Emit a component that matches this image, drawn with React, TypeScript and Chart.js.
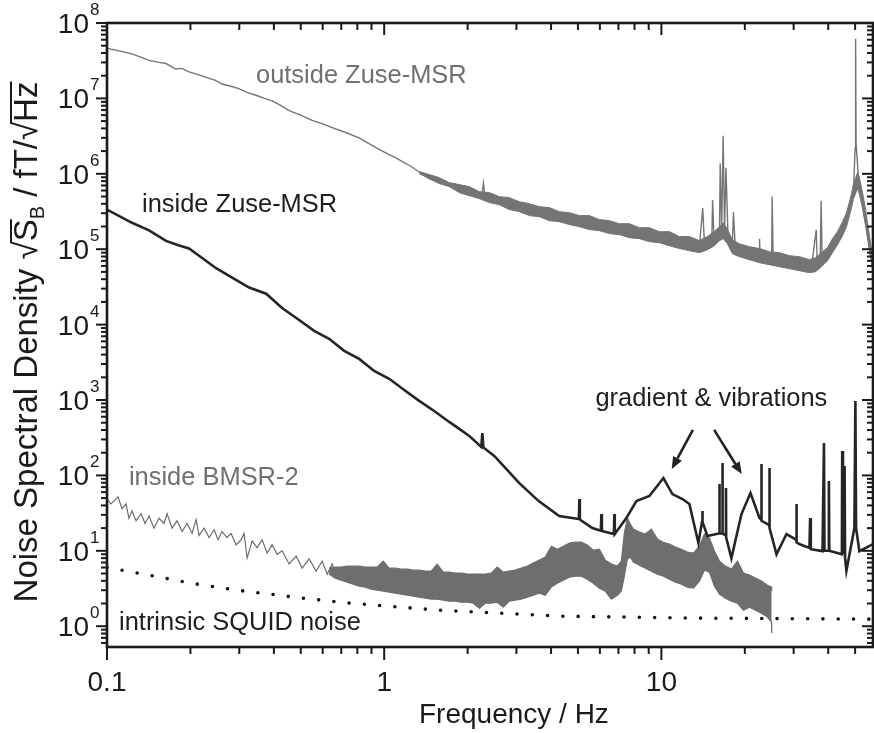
import React, { useEffect, useRef } from "react";
import { Chart, registerables } from "chart.js";
Chart.register(...registerables);

// ---------- axes ----------
const X_MIN = 0.1;
const X_MAX = 58;
const Y_MIN = 0.53;
const Y_MAX = 1e8;
const xMajorTicks = [0.1, 1, 10];
const xMajorLabels = ["0.1", "1", "10"];
const xMinorTicks = [0.2, 0.3, 0.4, 0.5, 0.6, 0.7, 0.8, 0.9, 2, 3, 4, 5, 6, 7, 8, 9, 20, 30, 40, 50];
const yMajorTicks = [1, 10, 100, 1e3, 1e4, 1e5, 1e6, 1e7, 1e8];
const yMajorExponents = ["0", "1", "2", "3", "4", "5", "6", "7", "8"];
const yMinorMantissas = [2, 3, 4, 5, 6, 7, 8, 9];

// ---------- series: outside Zuse-MSR (trace) ----------
const outsideFreq = [0.1, 0.1034, 0.1096, 0.1231, 0.133, 0.1418, 0.154, 0.1633, 0.177, 0.186, 0.1977, 0.2148, 0.228, 0.245, 0.26, 0.28, 0.299, 0.32, 0.345, 0.37, 0.394, 0.42, 0.454, 0.5, 0.55, 0.6, 0.649, 0.73, 0.812, 0.9, 0.985, 1.11, 1.25, 1.453, 1.6, 1.866, 2.1, 2.25, 2.28, 2.31, 2.6, 3.072, 3.6, 3.942, 4.5, 5.058, 6.0, 6.493, 7.3, 8.328, 9.834, 11, 12.62, 13.72, 14.1, 14.3, 15.2, 15.3, 15.5, 16.2, 16.3, 16.5, 16.7, 16.9, 17.1, 17.4, 18.0, 18.2, 18.5, 20.78, 22.5, 22.6, 22.7, 23.54, 25.0, 25.1, 25.3, 26.5, 31.42, 34.79, 36.2, 36.5, 37.4, 37.7, 38, 41.37, 45.03, 47.82, 49.33, 50.0, 50.2, 50.4, 51.1, 51.86, 54.06, 56.35, 58];
const outsideVal = [4.65e7, 4.5e7, 4.3e7, 3.9e7, 3.5e7, 3.2e7, 3.0e7, 2.9e7, 2.45e7, 2.5e7, 2.25e7, 2.05e7, 1.9e7, 1.75e7, 1.55e7, 1.45e7, 1.35e7, 1.2e7, 1.1e7, 1.0e7, 9.3e6, 8.2e6, 6.9e6, 6.0e6, 5.1e6, 4.6e6, 4.1e6, 3.5e6, 3.0e6, 2.4e6, 2.0e6, 1.6e6, 1.25e6, 8.6e5, 7.6e5, 6.3e5, 5.6e5, 5.0e5, 7.5e5, 4.9e5, 4.6e5, 3.7e5, 3.2e5, 2.9e5, 2.7e5, 2.35e5, 2.1e5, 1.95e5, 1.8e5, 1.6e5, 1.45e5, 1.35e5, 1.22e5, 1.12e5, 3.5e5, 1.15e5, 1.2e5, 4.5e5, 1.25e5, 1.4e5, 1.37e6, 1.8e5, 3.2e6, 1.8e5, 1.2e6, 1.4e5, 1.0e5, 3.1e5, 9.5e4, 8.9e4, 8.2e4, 1.38e5, 8.0e4, 7.6e4, 7.3e4, 5.0e5, 7.1e4, 7.0e4, 6.4e4, 5.8e4, 1.8e5, 6.2e4, 7.2e4, 4.4e5, 7.5e4, 1.13e5, 1.9e5, 3.4e5, 6.0e5, 2.2e6, 6.2e7, 2.5e6, 1.2e6, 6.6e5, 2.7e5, 1.2e5, 6.5e4];

// outside Zuse-MSR: noise band (upper / lower edges)
const outsideBandFreq = [1.3377, 1.4537, 1.5797, 1.7167, 1.8656, 2.0274, 2.2029, 2.3936, 2.6013, 2.8266, 3.0717, 3.3381, 3.627, 3.942, 4.2833, 4.6541, 5.0582, 5.4966, 5.9721, 6.4925, 7.0548, 7.6648, 8.3277, 9.0522, 9.835, 10.688, 11.614, 12.618, 13.716, 14.659, 15.536, 16.196, 16.743, 17.31, 18.043, 19.124, 20.782, 22.585, 24.544, 26.669, 28.98, 31.493, 34.213, 35.975, 37.815, 39.748, 41.432, 43.192, 45.025, 46.541, 47.721, 48.521, 49.331, 51.02, 51.87, 53.178, 54.527, 56.355, 57.77];
const outsideBandHigh = [1.07e6, 9.76e5, 8.9e5, 7.64e5, 7.19e5, 6.76e5, 5.8e5, 5.63e5, 4.98e5, 4.83e5, 4.27e5, 4.02e5, 3.67e5, 3.56e5, 3.15e5, 3.05e5, 2.79e5, 2.79e5, 2.47e5, 2.39e5, 2.18e5, 2.18e5, 1.93e5, 1.93e5, 1.71e5, 1.71e5, 1.47e5, 1.47e5, 1.3e5, 1.47e5, 1.71e5, 1.99e5, 2.25e5, 1.82e5, 1.34e5, 1.18e5, 1.08e5, 1.02e5, 9.27e4, 8.99e4, 8.2e4, 7.95e4, 7.26e4, 7.71e4, 8.99e4, 1.05e5, 1.38e5, 1.71e5, 2.32e5, 3.05e5, 4.27e5, 5.46e5, 7.41e5, 1.037e6, 8.64e5, 5.63e5, 3.35e5, 1.47e5, 8.2e4];
const outsideBandLow = [1.006e6, 8.64e5, 7.41e5, 6.76e5, 5.63e5, 5.13e5, 4.69e5, 4.15e5, 3.9e5, 3.35e5, 3.15e5, 2.79e5, 2.7e5, 2.39e5, 2.32e5, 2.12e5, 1.99e5, 1.82e5, 1.76e5, 1.61e5, 1.56e5, 1.42e5, 1.38e5, 1.26e5, 1.22e5, 1.11e5, 1.02e5, 9.55e4, 8.99e4, 9.85e4, 1.11e5, 1.3e5, 1.38e5, 1.18e5, 8.71e4, 7.95e4, 7.26e4, 6.62e4, 6.23e4, 5.86e4, 5.51e4, 5.18e4, 4.88e4, 5.03e4, 5.86e4, 7.04e4, 8.99e4, 1.15e5, 1.51e5, 1.99e5, 2.79e5, 3.56e5, 4.69e5, 6.36e5, 5.29e5, 3.45e5, 2.05e5, 9.27e4, 5.18e4];

// ---------- series: inside Zuse-MSR ----------
const insideFreq = [0.1, 0.1017, 0.1231, 0.1418, 0.1633, 0.182, 0.1977, 0.2148, 0.2475, 0.2827, 0.3256, 0.375, 0.4283, 0.4933, 0.5589, 0.6329, 0.7172, 0.8124, 0.9202, 1.0425, 1.181, 1.3377, 1.515, 1.7167, 1.866, 2.027, 2.24, 2.26, 2.28, 2.5, 3.072, 3.6, 4.28, 5.04, 5.06, 5.08, 5.636, 6.05, 6.074, 6.1, 6.74, 6.767, 6.79, 7.476, 8.123, 9.053, 10.17, 10.96, 11.91, 12.62, 13.6, 14.03, 14.06, 14.09, 14.66, 15.8, 16.15, 16.19, 16.23, 16.58, 16.61, 16.64, 17.07, 17.1, 17.13, 17.89, 19.45, 20.96, 22.59, 22.93, 22.96, 22.99, 24.5, 24.54, 24.58, 26.02, 28.27, 30.68, 30.72, 30.76, 31.42, 34.21, 34.4, 34.6, 38.13, 38.6, 38.75, 40.1, 40.2, 40.35, 44.8, 44.9, 45.2, 45.8, 46.0, 46.5, 49.7, 50.1, 50.4, 51.8, 58];
const insideVal = [3.3e5, 3.24e5, 2.24e5, 1.78e5, 1.29e5, 1.12e5, 1.02e5, 8.2e4, 5.6e4, 4.2e4, 3.1e4, 2.57e4, 1.66e4, 1.15e4, 8.27e3, 6.48e3, 4.49e3, 3.51e3, 2.43e3, 1.91e3, 1.36e3, 973, 716, 512, 415, 334, 238, 365, 235, 180, 79, 46, 29, 26.4, 48.6, 26, 20, 18.5, 30.7, 18.3, 16.7, 30.7, 16.7, 27.2, 45.7, 53.3, 92.3, 56.6, 48.6, 41.7, 12.7, 24.8, 33.7, 24, 15.7, 16.7, 17, 76.9, 17, 17, 146, 17, 16, 68, 15, 8.0, 30.7, 58.4, 27.2, 26, 142, 25, 22, 125, 20, 9.0, 16.7, 14, 41.7, 13, 12.3, 10.9, 27.2, 10.5, 9.9, 269, 10, 10, 84, 10, 9, 211, 9, 133, 8, 5.4, 20, 973, 20, 9.9, 12.3];

// ---------- series: inside BMSR-2 (low-frequency trace) ----------
const bmsrFreq = [0.1, 0.1034, 0.106, 0.1096, 0.1133, 0.1171, 0.12, 0.1231, 0.1273, 0.1327, 0.1372, 0.1418, 0.1478, 0.1541, 0.1606, 0.1647, 0.1717, 0.1789, 0.1866, 0.1945, 0.2027, 0.2096, 0.2148, 0.224, 0.2335, 0.2434, 0.2516, 0.2601, 0.2711, 0.2803, 0.2922, 0.3046, 0.3123, 0.3202, 0.3338, 0.3479, 0.3627, 0.3781, 0.3941, 0.4109, 0.4283, 0.454, 0.4813, 0.5058, 0.5362, 0.5684, 0.5974, 0.6228, 0.6493, 0.6767];
const bmsrVal = [48.6, 42, 46, 52, 36, 42, 27, 34, 25, 31, 23, 29, 20, 27, 23, 31, 20, 25, 18, 23, 17, 26, 16, 20, 15, 19, 14, 18, 15, 17, 12, 14, 17, 8, 13.5, 11, 14, 9.3, 12, 9, 10, 6.7, 8.5, 5.9, 7.8, 5.4, 7.3, 4.9, 6.7, 4.3];

// inside BMSR-2: noise band (upper / lower edges)
const bmsrBandFreq = [0.6329, 0.6655, 0.6995, 0.7354, 0.7729, 0.8124, 0.854, 0.8977, 0.9435, 0.9917, 1.0425, 1.0957, 1.1518, 1.2106, 1.2725, 1.3377, 1.406, 1.4779, 1.5533, 1.6331, 1.7167, 1.8043, 1.8967, 1.9935, 2.0956, 2.2029, 2.3153, 2.4338, 2.558, 2.689, 2.8266, 2.9709, 3.1229, 3.2823, 3.4504, 3.627, 3.8122, 4.0073, 4.2119, 4.4275, 4.6541, 4.8917, 5.1421, 5.4053, 5.6813, 5.9721, 6.277, 6.5983, 6.936, 7.1703, 7.3511, 7.5376, 7.7276, 7.9222, 8.3277, 8.7528, 9.201, 9.672, 10.166, 10.688, 11.233, 11.809, 12.414, 13.048, 13.716, 14.297, 14.905, 15.536, 16.196, 17.022, 17.893, 18.808, 19.77, 20.782, 21.847, 22.961, 24.137, 24.951, 25.0];
const bmsrBandHigh = [5.89, 6.08, 6.08, 6.26, 6.26, 6.26, 6.08, 6.08, 6.08, 7.3, 5.89, 5.89, 5.71, 5.71, 5.54, 5.54, 5.38, 5.38, 6.66, 5.21, 5.21, 5.06, 5.06, 4.91, 4.91, 4.91, 4.91, 5.06, 6.08, 5.21, 5.38, 5.54, 5.89, 6.26, 6.87, 7.52, 8.25, 11.5, 10.5, 11.5, 12.7, 13.0, 13.0, 11.9, 10.2, 10.5, 7.52, 6.66, 6.26, 7.3, 17.2, 27.2, 22.6, 19.4, 17.7, 16.7, 19.4, 14.3, 13.0, 12.3, 11.2, 10.5, 9.61, 9.32, 11.5, 16.7, 14.7, 9.91, 7.3, 6.26, 5.71, 7.3, 5.06, 4.76, 4.34, 3.96, 3.5, 3.3, 2.92];
const bmsrBandLow = [4.91, 4.34, 4.08, 3.84, 3.61, 3.4, 3.3, 3.1, 3.01, 2.92, 2.83, 2.74, 2.66, 2.58, 2.5, 2.43, 2.35, 2.28, 2.28, 2.21, 2.15, 2.15, 2.08, 2.08, 2.02, 1.73, 2.02, 2.02, 2.08, 1.79, 2.15, 2.21, 2.28, 2.43, 2.58, 2.74, 2.58, 3.3, 3.72, 4.08, 4.47, 4.61, 4.61, 4.21, 3.72, 3.2, 2.92, 2.28, 2.58, 2.92, 4.61, 7.76, 8.25, 7.08, 6.46, 5.89, 5.38, 4.91, 4.61, 4.21, 3.84, 3.61, 3.3, 3.2, 3.96, 5.54, 5.21, 3.4, 2.66, 2.35, 2.15, 2.02, 1.63, 1.79, 1.63, 1.49, 1.32, 1.13, 0.81];

// ---------- series: intrinsic SQUID noise ----------
const squidFreq = [0.1, 0.159, 0.204, 0.299, 0.497, 0.73, 1.06, 1.55, 2.6, 4.28, 13.7, 58];
const squidVal = [6.0, 4.39, 3.69, 2.98, 2.38, 2.04, 1.83, 1.64, 1.49, 1.36, 1.28, 1.24];

// ---------- annotations (data coordinates of text start / baseline) ----------
const labelTexts = ["outside Zuse-MSR", "inside Zuse-MSR", "gradient & vibrations", "inside BMSR-2", "intrinsic SQUID noise"];
const labelFreq = [0.3448, 0.1338, 5.78, 0.12, 0.1105];
const labelVal = [1.58e7, 3.08e5, 835, 74.6, 0.885];
const labelColors = ["#707070", "#1e1e1e", "#1e1e1e", "#707070", "#1e1e1e"];
const arrowFromFreq = [12.99, 15.5];
const arrowFromVal = [401, 401];
const arrowToFreq = [10.9, 19.5];
const arrowToVal = [122, 104];

const FONT = '"Liberation Sans", Arial, Helvetica, sans-serif';
const OUTSIDE_COLOR = "#747474";
const BMSR_COLOR = "#6e6e6e";

function pairs(fs: number[], vs: number[]) {
  const out: { x: number; y: number }[] = [];
  for (let i = 0; i < Math.min(fs.length, vs.length); i++) out.push({ x: fs[i], y: vs[i] });
  return out;
}

const decorPlugin = {
  id: "decor",
  afterDatasetsDraw(chart: any) {
    const { ctx, chartArea: a, scales } = chart;
    const xs = scales.x;
    const ys = scales.y;
    const ink = "#1a1a1a";
    const line = (x1: number, y1: number, x2: number, y2: number) => {
      ctx.beginPath();
      ctx.moveTo(x1, y1);
      ctx.lineTo(x2, y2);
      ctx.stroke();
    };
    ctx.save();
    ctx.strokeStyle = ink;
    ctx.lineWidth = 2;
    for (const t of xMinorTicks) {
      const px = xs.getPixelForValue(t);
      line(px, a.bottom, px, a.bottom + 7);
      line(px, a.top, px, a.top + 7);
    }
    for (const t of xMajorTicks) {
      const px = xs.getPixelForValue(t);
      line(px, a.bottom, px, a.bottom + 13);
      line(px, a.top, px, a.top + 12);
    }
    for (const m of yMajorTicks) {
      const py = ys.getPixelForValue(m);
      line(a.left - 11, py, a.left, py);
      line(a.right - 11, py, a.right, py);
      for (const k of yMinorMantissas) {
        const v = m * k;
        if (v > Y_MAX) continue;
        const q = ys.getPixelForValue(v);
        line(a.left - 6, q, a.left, q);
        line(a.right - 6, q, a.right, q);
      }
    }
    for (const k of yMinorMantissas) {
      const v = 0.1 * k;
      if (v < Y_MIN) continue;
      const q = ys.getPixelForValue(v);
      line(a.left - 6, q, a.left, q);
      line(a.right - 6, q, a.right, q);
    }
    ctx.lineWidth = 2.6;
    ctx.strokeRect(a.left, a.top, a.right - a.left, a.bottom - a.top);

    ctx.fillStyle = ink;
    ctx.font = `28px ${FONT}`;
    ctx.textAlign = "center";
    ctx.textBaseline = "alphabetic";
    xMajorTicks.forEach((t, i) => {
      ctx.fillText(xMajorLabels[i], xs.getPixelForValue(t), a.bottom + 44);
    });
    yMajorTicks.forEach((t, i) => {
      const py = ys.getPixelForValue(t);
      ctx.font = `28px ${FONT}`;
      ctx.textAlign = "right";
      ctx.fillText("10", a.left - 18, py + 10);
      ctx.font = `17px ${FONT}`;
      ctx.textAlign = "left";
      ctx.fillText(yMajorExponents[i], a.left - 17, py - 8);
    });

    ctx.font = `28px ${FONT}`;
    ctx.textAlign = "left";
    ctx.fillText("Frequency / Hz", 419, 723);

    ctx.save();
    ctx.translate(37, (a.top + a.bottom) / 2 + 7);
    ctx.rotate(-Math.PI / 2);
    const big = `33px ${FONT}`;
    const small = `20px ${FONT}`;
    ctx.font = big;
    const p1 = "Noise Spectral Density ";
    const p3 = " / fT/";
    const w1 = ctx.measureText(p1).width;
    const wr = ctx.measureText("\u221A").width;
    const wS = ctx.measureText("S").width;
    const w3 = ctx.measureText(p3).width;
    const wHz = ctx.measureText("Hz").width;
    ctx.font = small;
    const wB = ctx.measureText("B").width;
    const total = w1 + wr + wS + wB + w3 + wr + wHz;
    let x = -total / 2;
    ctx.font = big;
    ctx.textAlign = "left";
    ctx.fillText(p1, x, 0);
    x += w1;
    ctx.fillText("\u221A", x, 0);
    x += wr;
    ctx.fillText("S", x, 0);
    ctx.lineWidth = 2;
    line(x - 2, -26, x + wS, -26);
    x += wS;
    ctx.font = small;
    ctx.fillText("B", x, 7);
    x += wB;
    ctx.font = big;
    ctx.fillText(p3, x, 0);
    x += w3;
    ctx.fillText("\u221A", x, 0);
    x += wr;
    ctx.fillText("Hz", x, 0);
    line(x - 2, -26, x + wHz, -26);
    ctx.restore();

    ctx.textAlign = "left";
    labelTexts.forEach((txt, i) => {
      ctx.fillStyle = labelColors[i];
      ctx.font = `26.5px ${FONT}`;
      const px = xs.getPixelForValue(labelFreq[i]);
      const py = ys.getPixelForValue(labelVal[i]);
      ctx.save();
      ctx.translate(px, py);
      ctx.scale(0.96, 1);
      ctx.fillText(txt, 0, 0);
      ctx.restore();
    });
    ctx.strokeStyle = "#222";
    ctx.fillStyle = "#222";
    ctx.lineWidth = 2.6;
    arrowFromFreq.forEach((f, i) => {
      const x1 = xs.getPixelForValue(f);
      const y1 = ys.getPixelForValue(arrowFromVal[i]);
      const x2 = xs.getPixelForValue(arrowToFreq[i]);
      const y2 = ys.getPixelForValue(arrowToVal[i]);
      const ang = Math.atan2(y2 - y1, x2 - x1);
      const hl = 12;
      const bx = x2 - hl * Math.cos(ang);
      const by = y2 - hl * Math.sin(ang);
      line(x1, y1, bx, by);
      ctx.beginPath();
      ctx.moveTo(x2, y2);
      ctx.lineTo(bx + 5 * Math.sin(ang), by - 5 * Math.cos(ang));
      ctx.lineTo(bx - 5 * Math.sin(ang), by + 5 * Math.cos(ang));
      ctx.closePath();
      ctx.fill();
    });
    ctx.restore();
  },
};

export default function App() {
  const ref = useRef<HTMLCanvasElement | null>(null);
  useEffect(() => {
    document.body.style.margin = "0";
    const canvas = ref.current;
    if (!canvas) return;
    const base = { pointRadius: 0, tension: 0 };
    const chart = new Chart(canvas, {
      type: "line",
      data: {
        datasets: [
          { ...base, label: "outside band high", data: pairs(outsideBandFreq, outsideBandHigh), borderColor: OUTSIDE_COLOR, borderWidth: 1, fill: false },
          { ...base, label: "outside band low", data: pairs(outsideBandFreq, outsideBandLow), borderColor: OUTSIDE_COLOR, borderWidth: 1, backgroundColor: OUTSIDE_COLOR, fill: "-1" },
          { ...base, label: "outside Zuse-MSR", data: pairs(outsideFreq, outsideVal), borderColor: OUTSIDE_COLOR, borderWidth: 1.4, fill: false },
          { ...base, label: "inside Zuse-MSR", data: pairs(insideFreq, insideVal), borderColor: "#252525", borderWidth: 2.6, fill: false },
          { ...base, label: "bmsr band high", data: pairs(bmsrBandFreq, bmsrBandHigh), borderColor: BMSR_COLOR, borderWidth: 1.2, fill: false },
          { ...base, label: "bmsr band low", data: pairs(bmsrBandFreq, bmsrBandLow), borderColor: BMSR_COLOR, borderWidth: 1.2, backgroundColor: BMSR_COLOR, fill: "-1" },
          { ...base, label: "inside BMSR-2", data: pairs(bmsrFreq, bmsrVal), borderColor: BMSR_COLOR, borderWidth: 1.2, fill: false },
          { ...base, label: "intrinsic SQUID noise", data: pairs(squidFreq, squidVal), borderColor: "#111", borderWidth: 3.6, borderDash: [0, 15.3], borderCapStyle: "round", fill: false },
        ],
      },
      options: {
        animation: false,
        responsive: false,
        maintainAspectRatio: false,
        layout: { padding: { top: 23, right: 1, left: 0, bottom: 0 } },
        plugins: { legend: { display: false }, tooltip: { enabled: false }, title: { display: false } },
        scales: {
          x: {
            type: "logarithmic",
            min: X_MIN,
            max: X_MAX,
            grid: { display: false },
            border: { display: false },
            ticks: { display: false },
            afterBuildTicks: (s: any) => { s.ticks = xMajorTicks.concat(xMinorTicks).sort((p, q) => p - q).map((v) => ({ value: v })); },
            afterFit: (s: any) => { s.height = 86; },
          },
          y: {
            type: "logarithmic",
            min: Y_MIN,
            max: Y_MAX,
            grid: { display: false },
            border: { display: false },
            ticks: { display: false },
            afterBuildTicks: (s: any) => { s.ticks = yMajorTicks.map((v) => ({ value: v })); },
            afterFit: (s: any) => { s.width = 107; },
          },
        },
      },
      plugins: [decorPlugin],
    } as any);
    return () => chart.destroy();
  }, []);
  return (
    <div style={{ position: "absolute", left: 0, top: 0, width: 874, height: 733, background: "#fff" }}>
      <canvas ref={ref} width={874} height={733} style={{ display: "block" }} />
    </div>
  );
}
